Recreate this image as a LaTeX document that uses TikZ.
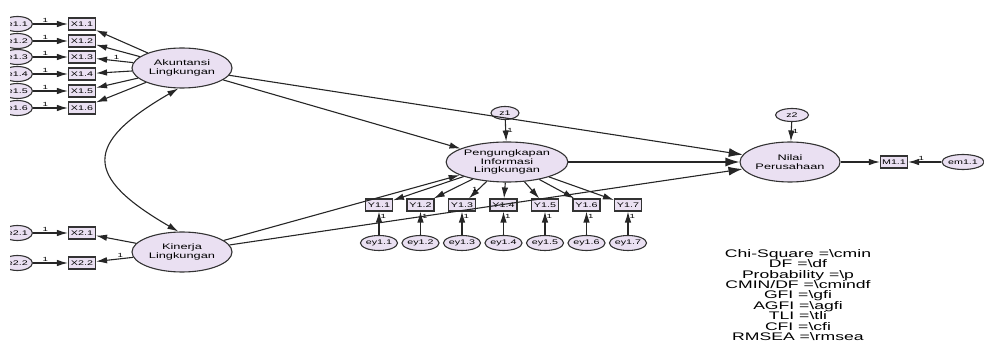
\documentclass[tikz,border=0pt]{standalone}
\usepackage{fontspec}
\newfontfamily\amos[FakeStretch=1.6]{Liberation Sans}
\usetikzlibrary{shapes.geometric,positioning,arrows.meta,calc}
\definecolor{lavender}{RGB}{234,224,242}

\begin{document}
\begin{tikzpicture}[
x=1pt,y=-1pt,
every node/.style={font=\amos},
latent/.style={ellipse,draw=black!80,fill=lavender,line width=1.1pt,minimum width=100,minimum height=40,inner sep=0,align=center,font=\amos\fontsize{8}{8.5}\selectfont},
indicator/.style={rectangle,draw=black!80,fill=lavender,line width=1.1pt,minimum width=27,minimum height=12,inner sep=0,font=\amos\fontsize{6.7}{7}\selectfont},
errterm/.style={ellipse,draw=black!80,fill=lavender,line width=1.1pt,minimum width=32,minimum height=15,inner sep=0,font=\amos\fontsize{6.7}{7}\selectfont},
reg/.style={-{Latex[length=11pt,width=6.5pt]},line width=1.1pt,draw=black!85},
bigreg/.style={-{Latex[length=14pt,width=9pt]},line width=1.1pt,draw=black!85},
cov/.style={{Latex[length=11pt,width=6.5pt]}-{Latex[length=11pt,width=6.5pt]},line width=1.1pt,draw=black!85},
fixone/.style={font=\amos\fontsize{6}{6}\selectfont,inner sep=1pt},
]
	\useasboundingbox (0,0) rectangle (984,344);
	\clip (10,0) rectangle (984,344);

	% latent variables
	\node[latent] (akun) at (182,68) {Akuntansi\\Lingkungan};
	\node[latent] (kin) at (182,252) {Kinerja\\Lingkungan};
	\node[latent] (pil) at (507,162) {Pengungkapan\\Informasi\\Lingkungan};
	\node[latent] (nilai) at (790,162) {Nilai\\Perusahaan};

	% indicators of Akuntansi Lingkungan
	\foreach \i/\y in {1/24,2/41,3/57,4/74,5/91,6/108}{
		\node[indicator] (x1\i) at (82,\y) {X1.\i};
		\node[errterm,minimum width=30,left=35pt of x1\i] (e1\i) {e1.\i};
		\draw[reg] (e1\i) -- node[fixone,above,pos=.35]{1} (x1\i);
		\draw[reg] (akun) -- (x1\i);
	}
	\path (akun) -- node[fixone,above,pos=.45]{1} (x13);

	% indicators of Kinerja Lingkungan
	\foreach \i/\y in {1/233,2/263}{
		\node[indicator] (x2\i) at (82,\y) {X2.\i};
		\node[errterm,minimum width=30,left=35pt of x2\i] (e2\i) {e2.\i};
		\draw[reg] (e2\i) -- node[fixone,above,pos=.35]{1} (x2\i);
		\draw[reg] (kin) -- (x2\i);
	}
	\path (kin) -- node[fixone,above,pos=.35]{1} (x22);

	\draw[cov] (akun.260) .. controls +(-95,55) and +(-95,-55) .. (kin.100);

	% indicators of Pengungkapan Informasi Lingkungan
	\foreach \i in {1,...,7}{
		\pgfmathsetmacro\xx{379+(\i-1)*41.5}
		\node[indicator] (y1\i) at (\xx,205) {Y1.\i};
		\node[errterm] (ey1\i) at (\xx,243) {ey1.\i};
		\draw[reg] (ey1\i) -- node[fixone,right,pos=.8]{1} (y1\i);
		\draw[reg] (pil) -- (y1\i);
	}
	\path (pil) -- node[fixone,left,pos=.45]{1} (y13);

	% disturbances
	\node[errterm,minimum width=28,minimum height=13] (z1) at (505,113) {z1};
	\draw[reg] (z1) -- node[fixone,right]{1} (pil);
	\node[errterm,minimum width=33,minimum height=13] (z2) at (792,115) {z2};
	\draw[reg] (z2) -- node[fixone,right]{1} (nilai);

	% structural paths
	\draw[reg] (akun) -- (pil);
	\draw[reg] (kin) -- (pil);
	\draw[bigreg] (akun) -- (nilai);
	\draw[bigreg] (kin) -- (nilai);
	\draw[bigreg] (pil) -- (nilai);

	% indicator of Nilai Perusahaan
	\node[indicator] (m11) at (894,162) {M1.1};
	\node[errterm,minimum width=42] (em11) at (963,162) {em1.1};
	\draw[reg] (nilai) -- (m11);
	\draw[reg] (em11) -- node[fixone,above,pos=.6]{1} (m11);

	% fit measures
	\node[align=center,font=\amos\fontsize{11}{10.4}\selectfont] (fit) at (798,295) {Chi-Square =\textbackslash cmin\\DF =\textbackslash df\\Probability =\textbackslash p\\CMIN/DF =\textbackslash cmindf\\GFI =\textbackslash gfi\\AGFI =\textbackslash agfi\\TLI =\textbackslash tli\\CFI =\textbackslash cfi\\RMSEA =\textbackslash rmsea};
\end{tikzpicture}
\end{document}
